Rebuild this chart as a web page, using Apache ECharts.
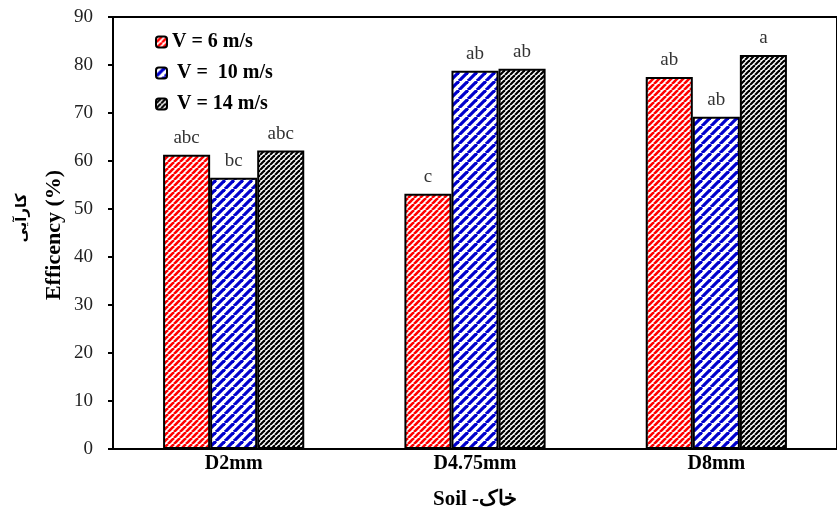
<!DOCTYPE html>
<html><head><meta charset="utf-8">
<script src="https://cdn.jsdelivr.net/npm/echarts@6/dist/echarts.min.js"></script>
<style>html,body{margin:0;padding:0;background:#fff}#c{width:837px;height:515px}</style>
</head><body><div id="c"></div>
<script>
var categories = ['D2mm', 'D4.75mm', 'D8mm'];
var seriesNames = ['V = 6 m/s', ' V =  10 m/s', ' V = 14 m/s'];
var v6 = [61.3, 53.2, 77.5];
var v10 = [56.5, 78.8, 69.2];
var v14 = [62.2, 79.2, 82.1];
var lbl6 = ['abc', 'c', 'ab'];
var lbl10 = ['bc', 'ab', 'ab'];
var lbl14 = ['abc', 'ab', 'a'];
var yTicks = [0, 10, 20, 30, 40, 50, 60, 70, 80, 90];

function stripe(p, w, color) {
  var c = document.createElement('canvas');
  c.width = p; c.height = p;
  var g = c.getContext('2d');
  g.fillStyle = '#fff'; g.fillRect(0, 0, p, p);
  g.strokeStyle = color; g.lineWidth = w;
  for (var k = -1; k <= 1; k++) {
    g.beginPath(); g.moveTo(k * p, p); g.lineTo(k * p + p, 0); g.stroke();
  }
  return {image: c, repeat: 'repeat'};
}
var pRed = stripe(6, 2.6, '#ff0000');
var pBlue = stripe(9, 3.2, '#0000cc');
var pBlack = stripe(5, 2.2, '#000000');

var serif = 'Liberation Serif';
function mk(name, data, labels, pat) {
  return {
    name: name, type: 'bar', barGap: '0%', barCategoryGap: '41.5%',
    data: data,
    itemStyle: {color: pat, borderColor: '#000', borderWidth: 2},
    label: {show: true, position: 'top', distance: 7, fontFamily: serif, fontSize: 19, color: '#333',
      formatter: function (p) { return labels[p.dataIndex]; }},
    emphasis: {disabled: true}
  };
}
var chart = echarts.init(document.getElementById('c'));
chart.setOption({
  animation: false,
  grid: {left: 113, top: 17, bottom: 65, right: -12, show: true, borderColor: '#000', borderWidth: 2},
  legend: {
    orient: 'vertical', left: 150, top: 27, itemWidth: 11, itemHeight: 11, itemGap: 11,
    textStyle: {fontFamily: serif, fontSize: 20, fontWeight: 'bold', color: '#000'},
    itemStyle: {borderColor: '#000', borderWidth: 2},
    data: seriesNames
  },
  xAxis: {
    type: 'category', data: categories,
    name: 'Soil -خاک', nameLocation: 'middle', nameGap: 40,
    nameTextStyle: {fontFamily: serif, fontSize: 21, fontWeight: 'bold', color: '#000'},
    axisLine: {lineStyle: {color: '#000', width: 2}},
    axisTick: {show: false},
    axisLabel: {fontFamily: serif, fontSize: 20, fontWeight: 'bold', color: '#000', margin: 5}
  },
  yAxis: {
    type: 'value', min: yTicks[0], max: yTicks[yTicks.length - 1], interval: 10,
    splitLine: {show: false},
    axisLine: {show: true, lineStyle: {color: '#000', width: 2}},
    axisTick: {show: true, length: 5, lineStyle: {color: '#000', width: 2}},
    axisLabel: {fontFamily: serif, fontSize: 19, color: '#222', margin: 20}
  },
  graphic: [
    {type: 'text', x: 54, y: 235, rotation: Math.PI / 2,
      style: {text: 'Efficency (%)', font: 'bold 22px "Liberation Serif"', fill: '#000', textAlign: 'center', textVerticalAlign: 'middle'}},
    {type: 'text', x: 22, y: 218, rotation: Math.PI / 2,
      style: {text: 'کارآیی', font: 'bold 15px "DejaVu Sans"', fill: '#000', textAlign: 'center', textVerticalAlign: 'middle'}}
  ],
  series: [
    mk(seriesNames[0], v6, lbl6, pRed),
    mk(seriesNames[1], v10, lbl10, pBlue),
    mk(seriesNames[2], v14, lbl14, pBlack)
  ]
});
</script></body></html>
